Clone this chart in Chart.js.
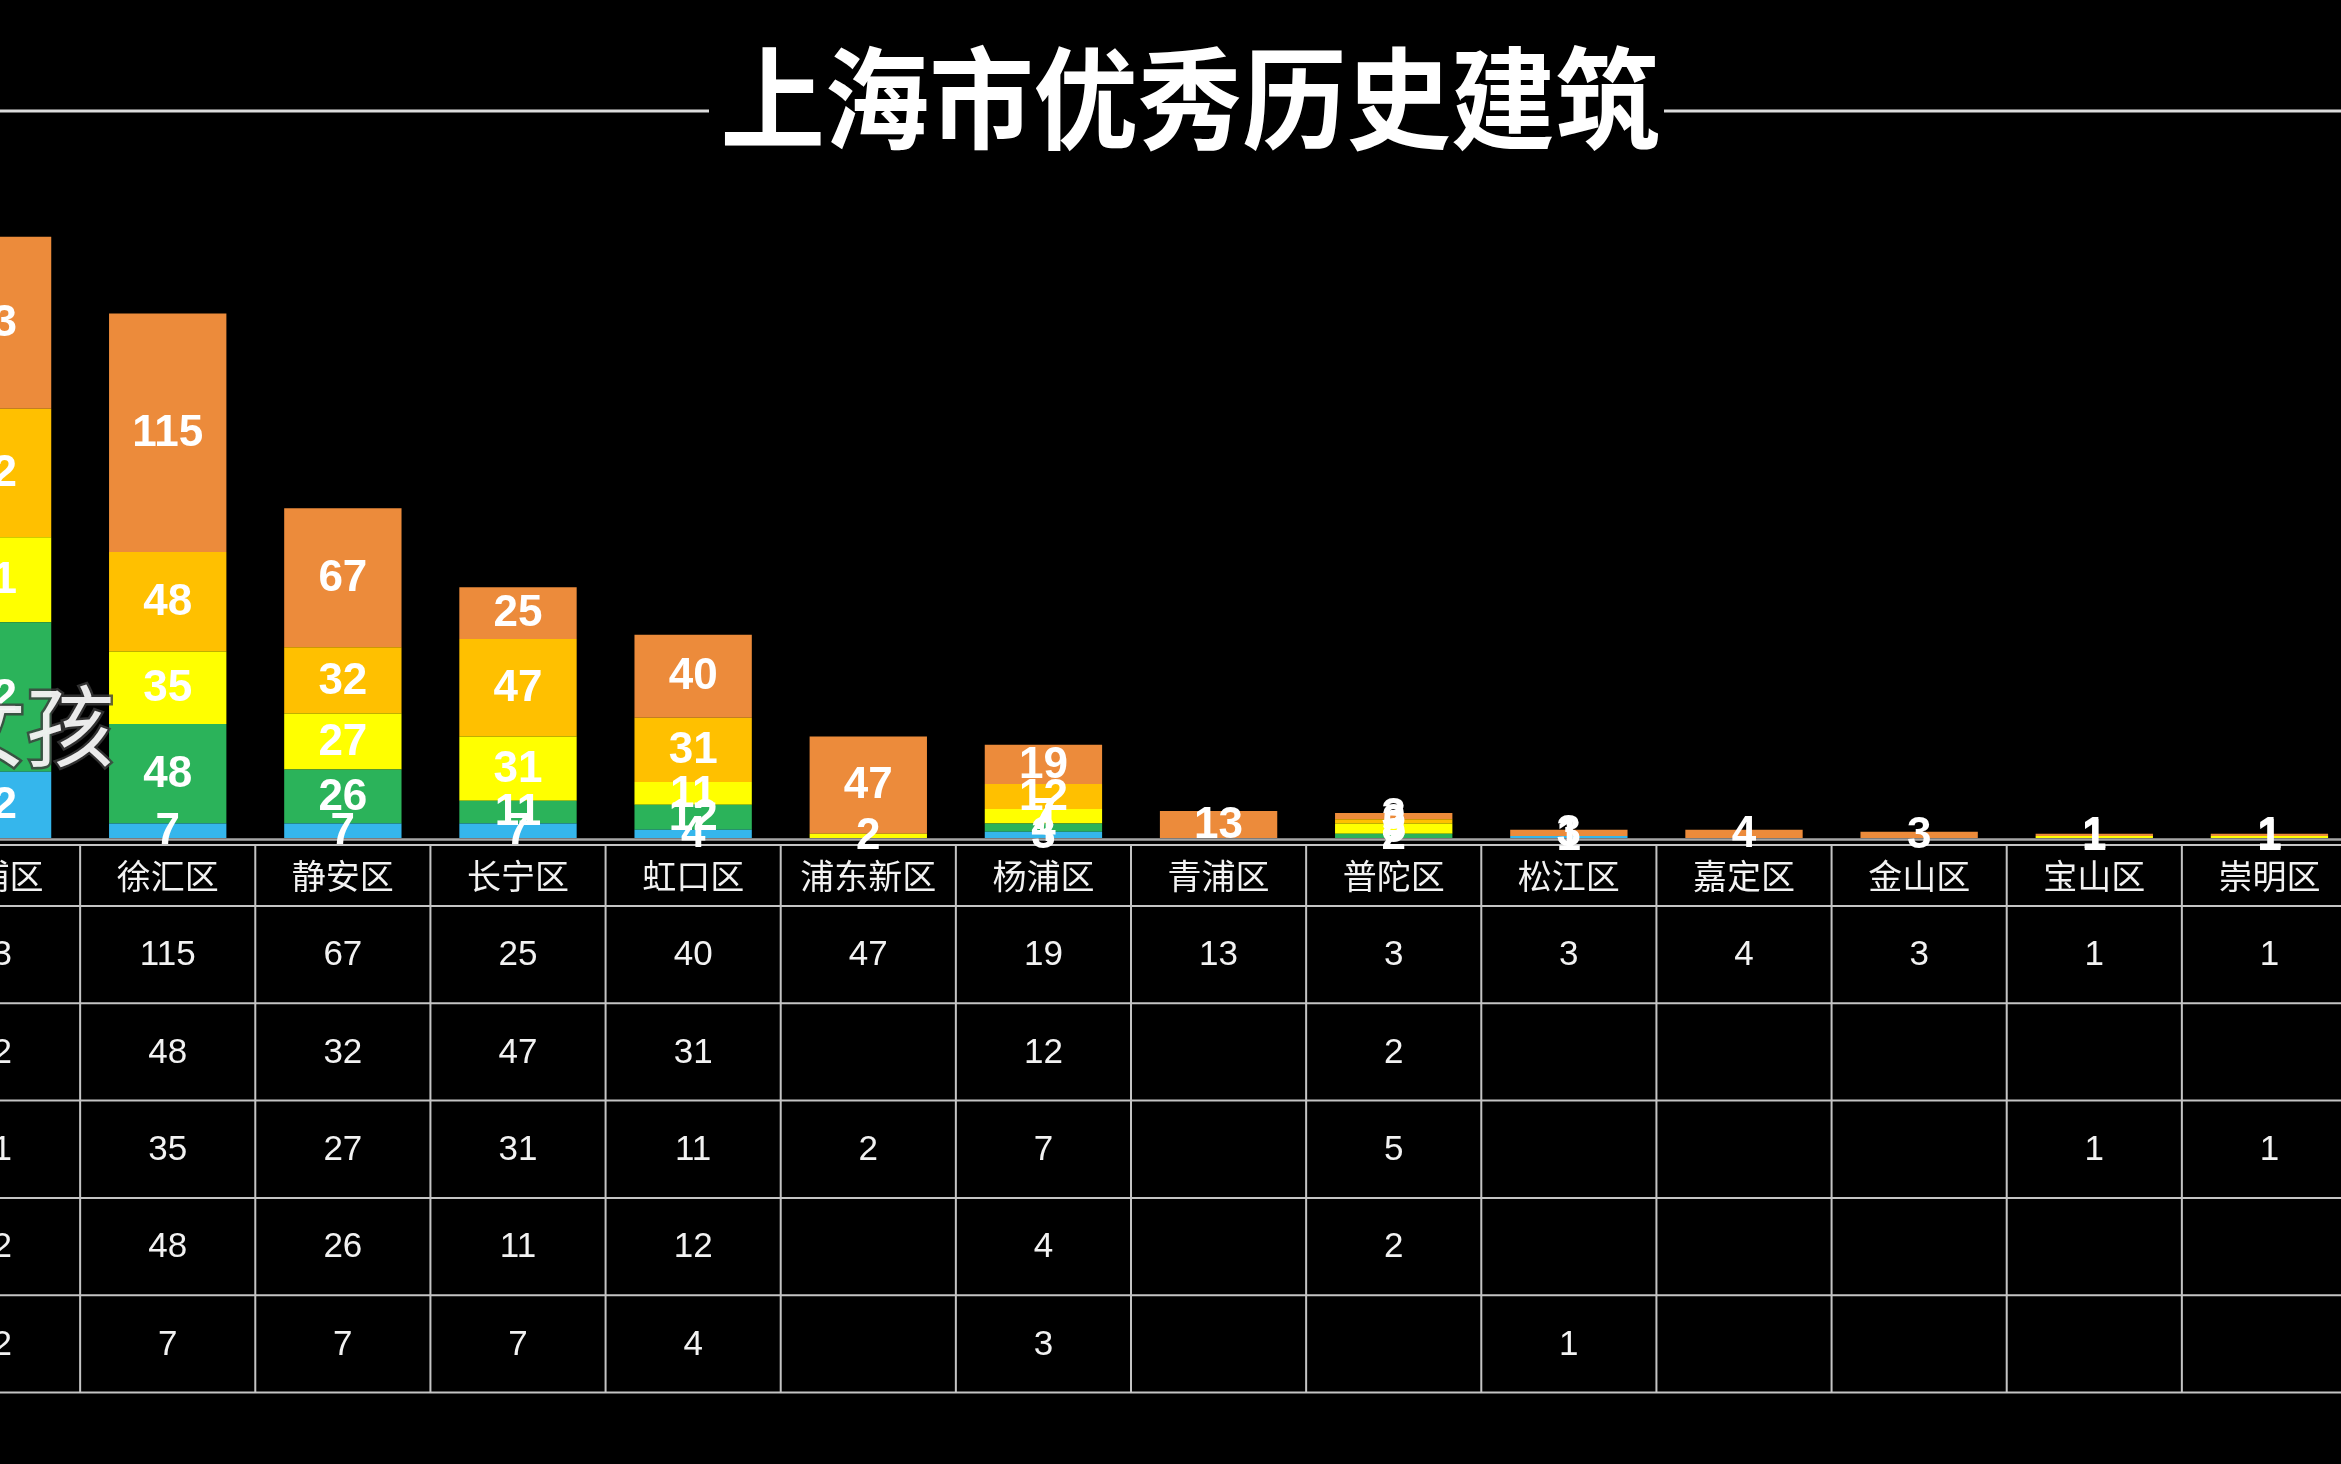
<!DOCTYPE html>
<html>
<head>
<meta charset="utf-8">
<script src="https://cdn.jsdelivr.net/npm/chart.js@4/dist/chart.umd.min.js"></script>
<style>
  html, body { margin: 0; padding: 0; background: #000; overflow: hidden; width: 2341px; height: 1464px; }
  #wrap { position: absolute; left: -95px; top: 0; width: 2452px; height: 1464px; }
  canvas { display: block; }
</style>
</head>
<body>
<div id="wrap"><canvas id="c" width="2452" height="1464"></canvas></div>
<script>
// ---- data ----
const titleText = '上海市优秀历史建筑';
const categories = ['黄浦区','徐汇区','静安区','长宁区','虹口区','浦东新区','杨浦区','青浦区','普陀区','松江区','嘉定区','金山区','宝山区','崇明区'];
const seriesNames = ['第五批','第四批','第三批','第二批','第一批'];
const batch5 = [83,115,67,25,40,47,19,13,3,3,4,3,1,1];
const batch4 = [62,48,32,47,31,null,12,null,2,null,null,null,null,null];
const batch3 = [41,35,27,31,11,2,7,null,5,null,null,null,1,1];
const batch2 = [72,48,26,11,12,null,4,null,2,null,null,null,null,null];
const batch1 = [32,7,7,7,4,null,3,null,null,1,null,null,null,null];
const seriesColors = ['#EC8B3B','#FFC000','#FFFF00','#2BB35A','#35B6EC'];
const watermarkText = '女孩';

// table rows top to bottom; stacking bottom to top is the reverse
const rows = [batch5, batch4, batch3, batch2, batch1];
const OFFSET_X = -95; // canvas left edge on the page

const datasets = rows.map((d, i) => ({
  label: seriesNames[i],
  data: d,
  backgroundColor: seriesColors[i],
  borderWidth: 0,
  categoryPercentage: 1,
  barPercentage: 0.67,
  stack: 's'
})).reverse();

const deco = {
  id: 'deco',
  afterDatasetsDraw(chart) {
    const ctx = chart.ctx;
    const xs = chart.scales.x;
    const area = chart.chartArea;
    const W = chart.width;
    const colW = (area.right - area.left) / categories.length;
    const px = v => v - OFFSET_X;

    ctx.save();
    // title (condensed bold)
    ctx.save();
    ctx.translate(px(1190), 99);
    ctx.scale(0.94, 1);
    ctx.font = 'bold 111px "Noto Sans CJK SC", sans-serif';
    ctx.fillStyle = '#ffffff';
    ctx.textAlign = 'center';
    ctx.textBaseline = 'middle';
    ctx.fillText(titleText, 0, 0);
    ctx.restore();
    ctx.strokeStyle = '#dcdcdc';
    ctx.lineWidth = 3;
    ctx.beginPath();
    ctx.moveTo(0, 111); ctx.lineTo(px(709), 111);
    ctx.moveTo(px(1664), 111); ctx.lineTo(W, 111);
    ctx.stroke();

    // axis line
    const base = area.bottom;
    ctx.strokeStyle = '#a6a6a6';
    ctx.lineWidth = 2.5;
    ctx.beginPath();
    ctx.moveTo(0, base + 1.5); ctx.lineTo(W, base + 1.5);
    ctx.stroke();

    // data table
    const tTop = base + 7;
    const headH = 61;
    const rowH = 97.3;
    const tBottom = tTop + headH + rowH * rows.length;
    ctx.strokeStyle = '#c4c4c4';
    ctx.lineWidth = 2;
    ctx.beginPath();
    const hy = [tTop, tTop + headH];
    for (let r = 1; r <= rows.length; r++) hy.push(tTop + headH + rowH * r);
    hy.forEach(y => { ctx.moveTo(0, y); ctx.lineTo(W, y); });
    for (let i = 0; i <= categories.length; i++) {
      const x = area.left + colW * i;
      ctx.moveTo(x, tTop); ctx.lineTo(x, tBottom);
    }
    ctx.stroke();

    ctx.fillStyle = '#f2f2f2';
    ctx.textAlign = 'center';
    ctx.textBaseline = 'middle';
    ctx.font = '34px "Noto Sans CJK SC", sans-serif';
    categories.forEach((c, i) => {
      ctx.fillText(c, xs.getPixelForValue(i), tTop + headH / 2 + 1);
    });
    ctx.font = '35px "Liberation Sans", Arial, sans-serif';
    rows.forEach((d, r) => {
      d.forEach((v, i) => {
        if (v === null || v === undefined) return;
        ctx.fillText(String(v), xs.getPixelForValue(i), tTop + headH + rowH * r + rowH / 2 + 1);
      });
    });

    // data labels inside segments
    ctx.font = 'bold 44px "Liberation Sans", Arial, sans-serif';
    ctx.fillStyle = '#ffffff';
    chart.data.datasets.forEach((ds, di) => {
      const meta = chart.getDatasetMeta(di);
      meta.data.forEach((el, i) => {
        const v = ds.data[i];
        if (v === null || v === undefined) return;
        const p = el.getCenterPoint();
        ctx.fillText(String(v), p.x, p.y + 1);
      });
    });

    // overlay watermark text (partially cut at the left edge)
    ctx.font = '88px "Noto Sans CJK SC", sans-serif';
    ctx.textAlign = 'right';
    ctx.textBaseline = 'middle';
    ctx.lineWidth = 5;
    ctx.strokeStyle = 'rgba(60,60,60,0.8)';
    ctx.strokeText(watermarkText, px(114), 726);
    ctx.fillStyle = 'rgba(245,245,245,0.95)';
    ctx.fillText(watermarkText, px(114), 726);
    ctx.restore();
  }
};

new Chart(document.getElementById('c'), {
  type: 'bar',
  data: { labels: categories, datasets },
  options: {
    responsive: false,
    animation: false,
    devicePixelRatio: 1,
    layout: { padding: { left: 0, right: 0, top: 216, bottom: 626 } },
    plugins: { legend: { display: false }, title: { display: false }, tooltip: { enabled: false } },
    scales: {
      x: { stacked: true, display: false, offset: true },
      y: { stacked: true, display: false, min: 0, max: 300 }
    }
  },
  plugins: [deco]
});
</script>
</body>
</html>
